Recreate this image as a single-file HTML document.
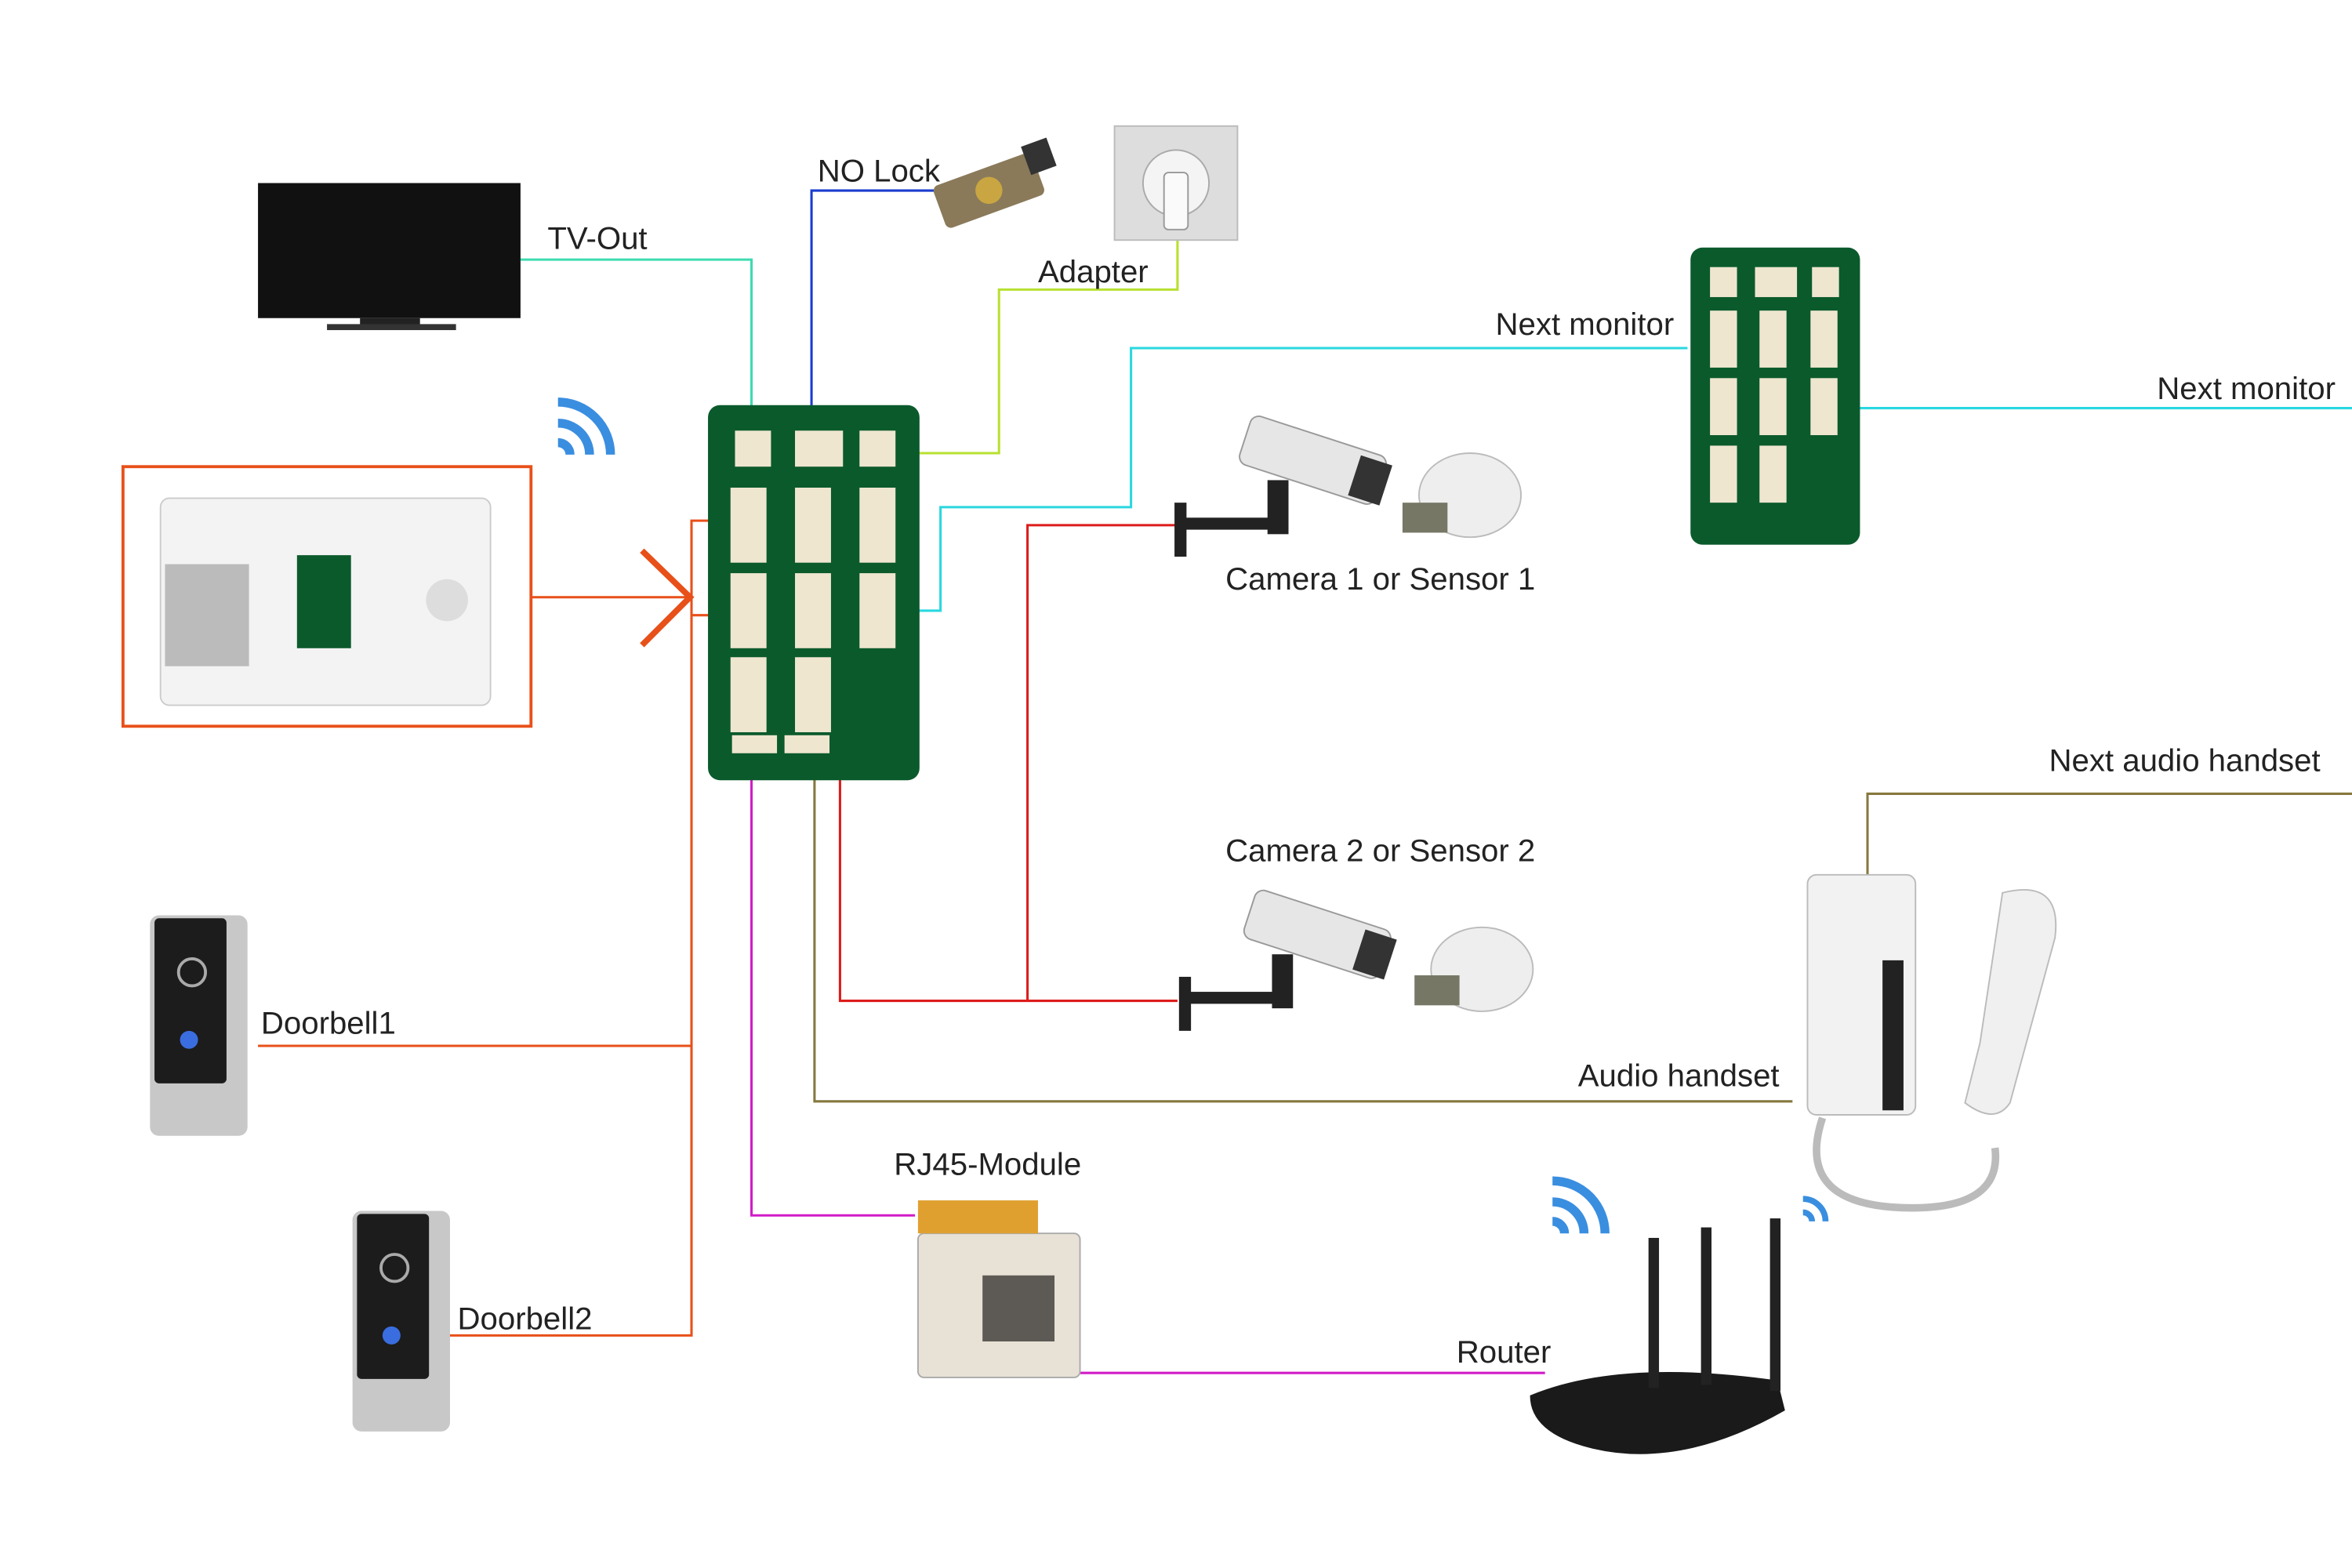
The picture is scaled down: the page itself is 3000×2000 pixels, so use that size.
<!DOCTYPE html>
<html><head><meta charset="utf-8"><style>
html,body{margin:0;padding:0;background:#fff;}
svg{display:block;}
text{font-family:"Liberation Sans",sans-serif;font-size:21px;fill:#222;}
</style></head><body>
<svg width="3000" height="2000" viewBox="0 0 1568 1045" preserveAspectRatio="none" xmlns="http://www.w3.org/2000/svg">
<rect width="1568" height="1045" fill="#fff"/>
<g fill="none" stroke-width="1.6">
<polyline points="347,173 501,173 501,300" stroke="#3ddbb0"/>
<polyline points="625,127 541,127 541,300" stroke="#1a3ccf"/>
<polyline points="785,160 785,193 666,193 666,302 585,302" stroke="#b8e030"/>
<polyline points="1125,232 754,232 754,338 627,338 627,407 570,407" stroke="#2ad8e0"/>
<polyline points="1215,272 1568,272" stroke="#2ad8e0"/>
<polyline points="354,398 461,398" stroke="#e8501a"/>
<polyline points="490,347 461,347 461,890 298,890" stroke="#e8501a"/>
<polyline points="490,410 461,410" stroke="#e8501a"/>
<polyline points="172,697 461,697" stroke="#e8501a"/>
<polyline points="785,350 685,350 685,667" stroke="#dd1c1c"/>
<polyline points="545,348 560,348 560,667 785,667" stroke="#dd1c1c"/>
<polyline points="543,500 543,734 1195,734" stroke="#86783e"/>
<polyline points="1245,583 1245,529 1568,529" stroke="#86783e"/>
<polyline points="501,490 501,810 610,810" stroke="#d21cc8"/>
<polyline points="710,915 1030,915" stroke="#d21cc8"/>
<polyline points="428,367 460,398 428,430" stroke="#e8501a" stroke-width="4"/>
</g>
<rect x="172" y="122" width="175" height="90" fill="#111"/>
<rect x="240" y="212" width="40" height="5" fill="#222"/>
<rect x="218" y="216" width="86" height="4" fill="#333"/>
<g transform="rotate(-20 665 128)"><rect x="625" y="110" width="70" height="30" rx="4" fill="#8a7a5a"/><circle cx="660" cy="125" r="9" fill="#c9a642"/><rect x="690" y="105" width="18" height="20" fill="#333"/></g>
<rect x="743" y="84" width="82" height="76" fill="#ddd" stroke="#bbb"/>
<circle cx="784" cy="122" r="22" fill="#f4f4f4" stroke="#aaa"/>
<rect x="776" y="115" width="16" height="38" rx="3" fill="#fafafa" stroke="#999"/>
<rect x="472" y="270" width="141" height="250" rx="8" fill="#0b5a2c"/>
<g fill="#efe6cf">
<rect x="490" y="287" width="24" height="24"/><rect x="530" y="287" width="32" height="24"/><rect x="573" y="287" width="24" height="24"/>
<rect x="487" y="325" width="24" height="50"/><rect x="530" y="325" width="24" height="50"/><rect x="573" y="325" width="24" height="50"/>
<rect x="487" y="382" width="24" height="50"/><rect x="530" y="382" width="24" height="50"/><rect x="573" y="382" width="24" height="50"/>
<rect x="487" y="438" width="24" height="50"/><rect x="530" y="438" width="24" height="50"/>
<rect x="488" y="490" width="30" height="12"/><rect x="523" y="490" width="30" height="12"/>
</g>
<rect x="1127" y="165" width="113" height="198" rx="8" fill="#0b5a2c"/>
<g fill="#efe6cf">
<rect x="1140" y="178" width="18" height="20"/><rect x="1170" y="178" width="28" height="20"/><rect x="1208" y="178" width="18" height="20"/>
<rect x="1140" y="207" width="18" height="38"/><rect x="1173" y="207" width="18" height="38"/><rect x="1207" y="207" width="18" height="38"/>
<rect x="1140" y="252" width="18" height="38"/><rect x="1173" y="252" width="18" height="38"/><rect x="1207" y="252" width="18" height="38"/>
<rect x="1140" y="297" width="18" height="38"/><rect x="1173" y="297" width="18" height="38"/>
</g>
<rect x="82" y="311" width="272" height="173" fill="none" stroke="#e8501a" stroke-width="2"/>
<rect x="107" y="332" width="220" height="138" rx="6" fill="#f3f3f3" stroke="#ccc"/>
<rect x="110" y="376" width="56" height="68" fill="#bbb"/>
<rect x="198" y="370" width="36" height="62" fill="#0b5a2c"/>
<circle cx="298" cy="400" r="14" fill="#ddd"/>
<g fill="none" stroke="#3a8ee0" stroke-width="6"><path d="M372,295 a8,8 0 0 1 8,8"/><path d="M372,282 a21,21 0 0 1 21,21"/><path d="M372,268 a35,35 0 0 1 35,35"/></g>
<g id="cam"><rect x="783" y="335" width="8" height="36" fill="#222"/><rect x="790" y="345" width="60" height="8" fill="#222"/><rect x="845" y="320" width="14" height="36" fill="#222"/>
<g transform="rotate(18 870 305)"><rect x="828" y="288" width="95" height="34" rx="6" fill="#e6e6e6" stroke="#999"/><rect x="905" y="292" width="22" height="28" fill="#333"/></g></g>
<use href="#cam" transform="translate(3,316)"/>
<ellipse cx="980" cy="330" rx="34" ry="28" fill="#eee" stroke="#bbb"/><rect x="935" y="335" width="30" height="20" fill="#776"/>
<ellipse cx="988" cy="646" rx="34" ry="28" fill="#eee" stroke="#bbb"/><rect x="943" y="650" width="30" height="20" fill="#776"/>
<g><rect x="100" y="610" width="65" height="147" rx="6" fill="#c8c8c8"/><rect x="103" y="612" width="48" height="110" rx="3" fill="#1c1c1c"/><circle cx="128" cy="648" r="9" fill="none" stroke="#aaa" stroke-width="2"/><circle cx="126" cy="693" r="6" fill="#3a6ee0"/></g>
<g><rect x="235" y="807" width="65" height="147" rx="6" fill="#c8c8c8"/><rect x="238" y="809" width="48" height="110" rx="3" fill="#1c1c1c"/><circle cx="263" cy="845" r="9" fill="none" stroke="#aaa" stroke-width="2"/><circle cx="261" cy="890" r="6" fill="#3a6ee0"/></g>
<rect x="612" y="822" width="108" height="96" rx="4" fill="#e8e2d6" stroke="#aaa"/>
<rect x="655" y="850" width="48" height="44" fill="#5d5a55"/>
<rect x="612" y="800" width="80" height="22" fill="#e0a030"/>
<rect x="1205" y="583" width="72" height="160" rx="6" fill="#f2f2f2" stroke="#bbb"/>
<rect x="1255" y="640" width="14" height="100" fill="#222"/>
<path d="M1335,595 q40,-10 35,30 l-30,110 q-10,15 -30,0 l10,-40 z" fill="#f0f0f0" stroke="#bbb"/>
<path d="M1215,745 q-20,60 60,60 q60,0 55,-40" fill="none" stroke="#bbb" stroke-width="5"/>
<path d="M1020,930 q60,-25 165,-10 l5,20 q-70,40 -130,25 q-40,-10 -40,-35z" fill="#1a1a1a"/>
<rect x="1099" y="825" width="7" height="100" fill="#222"/><rect x="1134" y="818" width="7" height="105" fill="#222"/><rect x="1180" y="812" width="7" height="115" fill="#222"/>
<g fill="none" stroke="#3a8ee0" stroke-width="6"><path d="M1035,814 a8,8 0 0 1 8,8"/><path d="M1035,801 a21,21 0 0 1 21,21"/><path d="M1035,787 a35,35 0 0 1 35,35"/></g>
<g fill="none" stroke="#3a8ee0" stroke-width="4"><path d="M1202,808 a6,6 0 0 1 6,6"/><path d="M1202,799 a15,15 0 0 1 15,15"/></g>
<text x="365" y="166">TV-Out</text>
<text x="545" y="121">NO Lock</text>
<text x="692" y="188">Adapter</text>
<text x="997" y="223">Next monitor</text>
<text x="1438" y="266">Next monitor</text>
<text x="817" y="393">Camera 1 or Sensor 1</text>
<text x="817" y="574">Camera 2 or Sensor 2</text>
<text x="1366" y="514">Next audio handset</text>
<text x="1052" y="724">Audio handset</text>
<text x="174" y="689">Doorbell1</text>
<text x="305" y="886">Doorbell2</text>
<text x="596" y="783">RJ45-Module</text>
<text x="971" y="908">Router</text>
</svg>
</body></html>
